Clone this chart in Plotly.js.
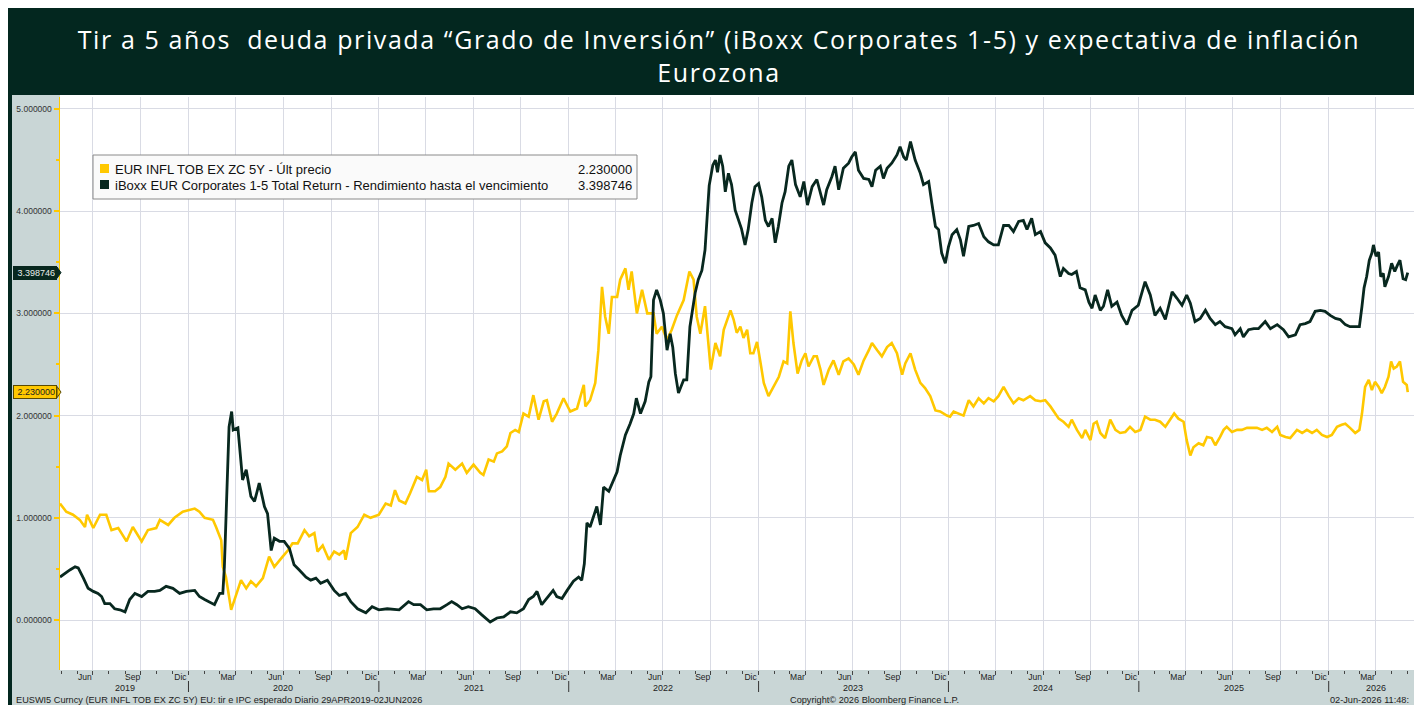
<!DOCTYPE html>
<html>
<head>
<meta charset="utf-8">
<script src="https://cdn.plot.ly/plotly-3.0.1.min.js"></script>
<style>
html,body{margin:0;padding:0;background:#ffffff;}
#chart{width:1414px;height:705px;}
</style>
</head>
<body>
<div id="chart"></div>
<script>
// ---------------- DATA ----------------
const inflName = 'EUR INFL TOB EX ZC 5Y - Últ precio';
const iboxxName = 'iBoxx EUR Corporates 1-5 Total Return - Rendimiento hasta el vencimiento';

const inflDates = ['2019-04-29','2019-05-11','2019-05-24','2019-06-06','2019-06-16','2019-06-20','2019-07-02','2019-07-15','2019-07-27','2019-08-06','2019-08-19','2019-09-04','2019-09-16','2019-10-03','2019-10-15','2019-10-31','2019-11-07','2019-11-23','2019-12-05','2019-12-21',
'2020-01-13','2020-01-22','2020-02-01','2020-02-17','2020-02-23','2020-03-04','2020-03-07','2020-03-13','2020-03-23','2020-04-02','2020-04-11','2020-04-21','2020-04-30','2020-05-10','2020-05-23','2020-06-04','2020-06-14','2020-06-30','2020-07-10','2020-07-19','2020-07-29','2020-08-11','2020-08-20','2020-08-30','2020-09-05','2020-09-15','2020-09-27','2020-10-07','2020-10-17','2020-10-26','2020-10-29','2020-11-08','2020-11-21','2020-12-04','2020-12-16',
'2021-01-01','2021-01-14','2021-01-24','2021-02-01','2021-02-09','2021-02-21','2021-03-02','2021-03-15','2021-03-25','2021-04-02','2021-04-07','2021-04-19','2021-04-29','2021-05-09','2021-05-15','2021-05-28','2021-06-10','2021-06-19','2021-07-02','2021-07-15','2021-07-21','2021-07-31','2021-08-10','2021-08-16','2021-08-26','2021-09-04','2021-09-11','2021-09-20','2021-09-27','2021-10-06','2021-10-16','2021-10-25','2021-11-04','2021-11-14','2021-11-20','2021-11-30','2021-12-09','2021-12-22',
'2022-01-04','2022-01-17','2022-01-30','2022-02-02','2022-02-11','2022-02-21','2022-02-27','2022-03-06','2022-03-12','2022-03-19','2022-03-25','2022-04-04','2022-04-10','2022-04-20','2022-04-26','2022-05-02','2022-05-12','2022-05-22','2022-06-01','2022-06-13','2022-06-19','2022-06-29','2022-07-09','2022-07-18','2022-07-28','2022-08-10','2022-08-21','2022-08-29','2022-09-04','2022-09-11','2022-09-20','2022-10-01','2022-10-10','2022-10-19','2022-10-26','2022-11-01','2022-11-08','2022-11-14','2022-11-20','2022-11-27','2022-12-03','2022-12-10','2022-12-16','2022-12-22','2022-12-29',
'2023-01-04','2023-01-11','2023-01-20','2023-01-30','2023-02-09','2023-02-18','2023-02-25','2023-03-03','2023-03-09','2023-03-17','2023-03-25','2023-04-01','2023-04-07','2023-04-17','2023-04-23','2023-04-30','2023-05-06','2023-05-16','2023-05-25','2023-06-04','2023-06-13','2023-06-23','2023-07-03','2023-07-12','2023-07-22','2023-08-01','2023-08-07','2023-08-17','2023-08-26','2023-09-05','2023-09-14','2023-09-24','2023-10-04','2023-10-10','2023-10-20','2023-10-29','2023-11-08','2023-11-17','2023-11-27','2023-12-07','2023-12-16','2023-12-29',
'2024-01-04','2024-01-11','2024-01-21','2024-01-30','2024-02-09','2024-02-18','2024-02-28','2024-03-09','2024-03-18','2024-03-28','2024-04-06','2024-04-16','2024-04-26','2024-05-05','2024-05-15','2024-05-24','2024-06-06','2024-06-16','2024-06-26','2024-07-05','2024-07-15','2024-07-24','2024-07-31','2024-08-09','2024-08-19','2024-08-25','2024-09-04','2024-09-14','2024-09-20','2024-09-30','2024-10-06','2024-10-12','2024-10-19','2024-10-28','2024-11-07','2024-11-17','2024-11-26','2024-12-06','2024-12-15','2024-12-25',
'2025-01-04','2025-01-13','2025-01-23','2025-02-01','2025-02-11','2025-02-21','2025-03-02','2025-03-10','2025-03-18','2025-03-28','2025-04-03','2025-04-10','2025-04-16','2025-04-26','2025-05-05','2025-05-12','2025-05-21','2025-05-28','2025-06-06','2025-06-13','2025-06-19','2025-06-29','2025-07-09','2025-07-18','2025-07-28','2025-08-06','2025-08-16','2025-08-26','2025-09-04','2025-09-14','2025-09-24','2025-09-30','2025-10-10','2025-10-19','2025-11-01','2025-11-11','2025-11-20','2025-11-30','2025-12-09','2025-12-19','2025-12-29',
'2026-01-07','2026-01-17','2026-01-26','2026-02-02','2026-02-11','2026-02-21','2026-03-01','2026-03-06','2026-03-12','2026-03-19','2026-03-25','2026-03-31','2026-04-07','2026-04-13','2026-04-19','2026-04-26','2026-05-01','2026-05-06','2026-05-12','2026-05-18','2026-05-24','2026-05-31','2026-06-02'];
const inflValues = [1.14,1.06,1.03,0.98,0.91,1.03,0.90,1.03,1.03,0.88,0.90,0.77,0.91,0.77,0.88,0.90,0.98,0.93,1.00,1.06,
1.09,1.06,1.00,0.98,0.91,0.78,0.52,0.42,0.10,0.26,0.39,0.31,0.38,0.33,0.41,0.62,0.52,0.62,0.68,0.75,0.75,0.88,0.82,0.85,0.67,0.73,0.59,0.67,0.64,0.68,0.59,0.85,0.91,1.03,1.00,
1.03,1.14,1.12,1.27,1.17,1.14,1.24,1.40,1.37,1.47,1.26,1.26,1.30,1.40,1.53,1.47,1.53,1.44,1.52,1.44,1.42,1.57,1.55,1.63,1.65,1.70,1.83,1.86,1.84,2.02,1.99,2.20,1.96,2.14,2.15,1.94,2.02,2.17,
2.04,2.07,2.30,2.09,2.15,2.32,2.64,3.26,2.97,2.80,3.16,3.16,3.33,3.44,3.23,3.41,3.00,3.23,3.00,3.00,2.80,2.87,2.74,2.84,2.98,3.13,3.41,3.33,2.97,2.80,3.07,2.45,2.71,2.58,2.84,2.92,3.03,2.94,2.81,2.87,2.76,2.84,2.61,2.61,2.72,
2.54,2.32,2.19,2.28,2.38,2.53,2.51,3.02,2.71,2.41,2.54,2.61,2.48,2.58,2.58,2.45,2.30,2.45,2.54,2.40,2.53,2.56,2.50,2.40,2.54,2.64,2.71,2.64,2.58,2.67,2.71,2.61,2.40,2.51,2.61,2.45,2.32,2.27,2.19,2.05,2.04,2.00,
1.99,2.04,2.02,2.00,2.15,2.09,2.17,2.12,2.17,2.14,2.19,2.28,2.19,2.12,2.17,2.15,2.19,2.15,2.14,2.15,2.09,2.02,1.97,1.94,1.89,1.96,1.86,1.78,1.86,1.76,1.92,1.94,1.83,1.78,1.96,1.86,1.83,1.84,1.89,1.84,
1.86,1.99,1.96,1.96,1.94,1.89,1.96,2.02,1.97,1.94,1.76,1.61,1.69,1.73,1.71,1.79,1.78,1.71,1.79,1.86,1.89,1.84,1.86,1.86,1.88,1.88,1.88,1.86,1.88,1.84,1.89,1.81,1.79,1.78,1.86,1.83,1.86,1.83,1.86,1.81,1.79,
1.81,1.89,1.91,1.92,1.88,1.83,1.86,2.02,2.28,2.35,2.25,2.33,2.28,2.22,2.28,2.38,2.53,2.46,2.48,2.53,2.33,2.30,2.23];

const iboxxDates = ['2019-04-29','2019-05-09','2019-05-18','2019-05-28','2019-06-03','2019-06-13','2019-06-22','2019-07-02','2019-07-11','2019-07-18','2019-07-24','2019-08-03','2019-08-12','2019-08-22','2019-09-01','2019-09-10','2019-09-20','2019-10-03','2019-10-15','2019-10-28','2019-11-07','2019-11-19','2019-12-02','2019-12-15','2019-12-28',
'2020-01-13','2020-01-22','2020-02-01','2020-02-10','2020-02-20','2020-03-01','2020-03-07','2020-03-10','2020-03-15','2020-03-19','2020-03-24','2020-03-27','2020-04-05','2020-04-11','2020-04-14','2020-04-21','2020-04-30','2020-05-07','2020-05-16','2020-05-26','2020-06-01','2020-06-08','2020-06-14','2020-06-24','2020-07-03','2020-07-13','2020-07-22','2020-08-01','2020-08-14','2020-08-23','2020-09-02','2020-09-11','2020-09-24','2020-10-07','2020-10-17','2020-10-29','2020-11-08','2020-11-21','2020-12-07','2020-12-19',
'2021-01-01','2021-01-17','2021-02-09','2021-02-27','2021-03-09','2021-03-22','2021-04-03','2021-04-16','2021-04-29','2021-05-12','2021-05-21','2021-05-31','2021-06-10','2021-06-22','2021-07-05','2021-07-18','2021-08-03','2021-08-16','2021-08-29','2021-09-11','2021-09-23','2021-10-06','2021-10-16','2021-10-25','2021-11-01','2021-11-10','2021-11-20','2021-12-02','2021-12-09','2021-12-19','2021-12-29',
'2022-01-10','2022-01-20','2022-01-26','2022-01-31','2022-02-05','2022-02-11','2022-02-18','2022-02-24','2022-03-03','2022-03-09','2022-03-19','2022-03-28','2022-04-04','2022-04-10','2022-04-20','2022-04-29','2022-05-06','2022-05-11','2022-05-19','2022-05-28','2022-06-04','2022-06-08','2022-06-13','2022-06-19','2022-06-26','2022-07-02','2022-07-09','2022-07-15','2022-07-20','2022-07-25','2022-07-31','2022-08-10','2022-08-16','2022-08-22','2022-09-01','2022-09-07','2022-09-14','2022-09-20','2022-09-24','2022-09-28','2022-10-05','2022-10-10','2022-10-14','2022-10-19','2022-10-24','2022-10-29','2022-11-04','2022-11-10','2022-11-17','2022-11-23','2022-11-29','2022-12-06','2022-12-12','2022-12-19','2022-12-25',
'2023-01-01','2023-01-07','2023-01-14','2023-01-20','2023-01-27','2023-02-02','2023-02-08','2023-02-15','2023-02-21','2023-02-28','2023-03-06','2023-03-13','2023-03-22','2023-03-29','2023-04-05','2023-04-14','2023-04-23','2023-04-30','2023-05-06','2023-05-12','2023-05-22','2023-05-28','2023-06-04','2023-06-13','2023-06-23','2023-06-29','2023-07-06','2023-07-12','2023-07-22','2023-08-01','2023-08-07','2023-08-14','2023-08-23','2023-08-29','2023-09-05','2023-09-14','2023-09-24','2023-09-30','2023-10-07','2023-10-12','2023-10-20','2023-10-29','2023-11-08','2023-11-14','2023-11-24','2023-11-30','2023-12-07','2023-12-13','2023-12-19','2023-12-26',
'2024-01-01','2024-01-08','2024-01-17','2024-01-24','2024-01-30','2024-02-09','2024-02-18','2024-02-28','2024-03-09','2024-03-18','2024-03-28','2024-04-06','2024-04-16','2024-04-26','2024-05-05','2024-05-15','2024-05-24','2024-05-31','2024-06-09','2024-06-16','2024-06-26','2024-07-05','2024-07-15','2024-07-24','2024-08-03','2024-08-09','2024-08-19','2024-08-25','2024-09-03','2024-09-10','2024-09-20','2024-09-27','2024-10-03','2024-10-09','2024-10-19','2024-10-25','2024-11-02','2024-11-10','2024-11-20','2024-11-29','2024-12-09','2024-12-19','2024-12-31',
'2025-01-13','2025-01-23','2025-02-01','2025-02-11','2025-02-21','2025-03-06','2025-03-15','2025-03-25','2025-04-03','2025-04-10','2025-04-19','2025-04-29','2025-05-09','2025-05-18','2025-05-28','2025-06-06','2025-06-16','2025-06-29','2025-07-05','2025-07-15','2025-07-21','2025-07-31','2025-08-10','2025-08-19','2025-09-01','2025-09-11','2025-09-24','2025-10-06','2025-10-16','2025-10-29','2025-11-07','2025-11-17','2025-11-26','2025-12-06','2025-12-16','2025-12-25',
'2026-01-04','2026-01-14','2026-01-23','2026-02-02','2026-02-11','2026-02-21','2026-03-01','2026-03-06','2026-03-10','2026-03-15','2026-03-20','2026-03-25','2026-03-28','2026-04-02','2026-04-07','2026-04-11','2026-04-16','2026-04-19','2026-04-26','2026-05-02','2026-05-08','2026-05-13','2026-05-18','2026-05-24','2026-05-29','2026-06-02'];
const iboxxValues = [0.42,0.46,0.49,0.52,0.51,0.41,0.31,0.28,0.26,0.23,0.16,0.16,0.11,0.10,0.08,0.20,0.26,0.23,0.28,0.28,0.29,0.33,0.31,0.26,0.28,
0.29,0.23,0.20,0.18,0.15,0.26,0.26,0.52,1.37,1.89,2.04,1.86,1.88,1.53,1.37,1.47,1.21,1.16,1.34,1.11,1.04,0.68,0.80,0.77,0.77,0.70,0.54,0.49,0.42,0.39,0.41,0.36,0.39,0.29,0.24,0.26,0.18,0.11,0.07,0.13,
0.10,0.11,0.10,0.18,0.15,0.15,0.10,0.11,0.11,0.15,0.18,0.15,0.11,0.13,0.11,0.05,-0.02,0.02,0.03,0.08,0.07,0.11,0.20,0.23,0.28,0.15,0.21,0.29,0.23,0.21,0.29,
0.38,0.42,0.39,0.55,0.95,0.91,1.01,1.11,0.93,1.30,1.26,1.37,1.45,1.61,1.81,1.92,2.02,2.17,2.02,2.14,2.33,2.38,3.13,3.23,3.13,3.00,2.64,2.80,2.67,2.41,2.22,2.35,2.35,2.87,3.20,3.33,3.42,3.62,4.00,4.25,4.45,4.50,4.38,4.55,4.44,4.19,4.37,4.26,4.01,3.93,3.83,3.67,3.82,4.08,4.24,
4.27,4.14,3.91,3.85,3.93,3.69,3.85,4.08,4.19,4.44,4.50,4.26,4.14,4.29,4.06,4.24,4.31,4.16,4.06,4.21,4.34,4.44,4.21,4.42,4.47,4.53,4.58,4.40,4.32,4.31,4.24,4.40,4.44,4.32,4.42,4.47,4.55,4.63,4.53,4.50,4.68,4.50,4.37,4.26,4.29,4.08,3.85,3.82,3.59,3.49,
3.65,3.77,3.82,3.72,3.56,3.85,3.86,3.88,3.75,3.70,3.67,3.67,3.86,3.86,3.80,3.90,3.91,3.82,3.93,3.77,3.80,3.69,3.64,3.57,3.36,3.44,3.39,3.38,3.41,3.25,3.23,3.11,3.05,3.18,3.03,3.07,3.23,3.07,3.11,2.98,2.89,3.03,3.08,
3.31,3.18,2.98,3.05,2.94,3.21,3.15,3.08,3.18,3.10,2.92,2.95,3.03,2.95,2.89,2.92,2.87,2.85,2.79,2.85,2.77,2.84,2.85,2.85,2.92,2.85,2.89,2.84,2.77,2.79,2.89,2.90,2.92,3.02,3.03,3.02,
2.98,2.95,2.94,2.89,2.87,2.87,2.87,3.07,3.25,3.36,3.52,3.59,3.67,3.56,3.60,3.36,3.39,3.26,3.36,3.49,3.41,3.47,3.52,3.34,3.33,3.398746];

const quarterTicks = ['2019-07-01','2019-10-01','2020-01-01','2020-04-01','2020-07-01','2020-10-01','2021-01-01','2021-04-01','2021-07-01','2021-10-01','2022-01-01','2022-04-01','2022-07-01','2022-10-01','2023-01-01','2023-04-01','2023-07-01','2023-10-01','2024-01-01','2024-04-01','2024-07-01','2024-10-01','2025-01-01','2025-04-01','2025-07-01','2025-10-01','2026-01-01','2026-04-01'];
const quarterLabels = ['Jun','Sep','Dic','Mar','Jun','Sep','Dic','Mar','Jun','Sep','Dic','Mar','Jun','Sep','Dic','Mar','Jun','Sep','Dic','Mar','Jun','Sep','Dic','Mar','Jun','Sep','Dic','Mar'];
const yearLabels = ['2019','2020','2021','2022','2023','2024','2025','2026'];
const yearLabelDates = ['2019-08-31','2020-07-01','2021-07-02','2022-07-02','2023-07-02','2024-07-01','2025-07-02','2026-04-01'];
const yearSeparators = ['2020-01-01','2021-01-01','2022-01-01','2023-01-01','2024-01-01','2025-01-01','2026-01-01'];
const yTicks = [0,1,2,3,4,5];

const titleText = 'Tir a 5 años  deuda privada “Grado de Inversión” (iBoxx Corporates 1-5) y expectativa de inflación<br>Eurozona';
const footLeft = 'EUSWI5 Curncy (EUR INFL TOB EX ZC 5Y) EU: tir e IPC esperado Diario 29APR2019-02JUN2026';
const footMid = 'Copyright© 2026 Bloomberg Finance L.P.';
const footRight = '02-Jun-2026 11:48:';

// ---------------- STYLE ----------------
const W = 1414, H = 705, ML = 60, MR = 0, MT = 97, MB = 35;
const PW = W - ML - MR, PH = H - MT - MB;
const px = v => (v - ML) / PW;          // pixel x -> paper
const py = v => (H - MB - v) / PH;      // pixel y -> paper
const DARK = '#03271F';
const GUT = '#C9D6D6';
const YEL = '#FFC800';
const LINE_DARK = '#08281F';
const GRID = '#D9DBE4';
const FONT = 'Liberation Sans, Arial, sans-serif';

const lastInfl = inflValues[inflValues.length - 1];
const lastIboxx = iboxxValues[iboxxValues.length - 1];

const traces = [
  {type:'scatter', mode:'lines', x:inflDates, y:inflValues, name:inflName,
   line:{color:YEL, width:2.6}, hoverinfo:'skip'},
  {type:'scatter', mode:'lines', x:iboxxDates, y:iboxxValues, name:iboxxName,
   line:{color:LINE_DARK, width:2.8}, hoverinfo:'skip'}
];

const shapes = [
  {type:'rect', xref:'paper', yref:'paper', x0:px(8), x1:px(1414), y0:py(95), y1:py(8), fillcolor:DARK, line:{width:0}, layer:'below'},
  {type:'rect', xref:'paper', yref:'paper', x0:px(12), x1:px(60), y0:py(705), y1:py(95), fillcolor:GUT, line:{width:0}, layer:'below'},
  {type:'rect', xref:'paper', yref:'paper', x0:px(12), x1:px(1414), y0:py(705), y1:py(670), fillcolor:GUT, line:{width:0}, layer:'below'},
  {type:'rect', xref:'paper', yref:'paper', x0:px(8), x1:px(12), y0:py(705), y1:py(95), fillcolor:DARK, line:{width:0}, layer:'below'},
  {type:'rect', xref:'paper', yref:'paper', x0:px(93), x1:px(637), y0:py(199), y1:py(155), fillcolor:'#FAFAFA', line:{color:'#8A8A8A', width:1}, layer:'above'},
  {type:'rect', xref:'paper', yref:'paper', x0:px(100), x1:px(109), y0:py(173), y1:py(164), fillcolor:YEL, line:{width:0}, layer:'above'},
  {type:'rect', xref:'paper', yref:'paper', x0:px(100), x1:px(109), y0:py(189), y1:py(180), fillcolor:LINE_DARK, line:{width:0}, layer:'above'}
];
yearSeparators.forEach(d => shapes.push({type:'line', xref:'x', yref:'paper', x0:d, x1:d, y0:py(681), y1:py(692), line:{color:'#333', width:1}}));
[[lastIboxx, LINE_DARK],[lastInfl, YEL]].forEach(([v,c]) => shapes.push({
  type:'path', xref:'paper', yref:'y',
  path:`M ${px(57)} ${v+0.055} L ${px(61)} ${v} L ${px(57)} ${v-0.055} Z`,
  fillcolor:c, line:{color: c===YEL ? '#5a4a00' : c, width:1}, layer:'above'}));

const LEG = 13;
const annotations = [
  {xref:'paper', yref:'paper', x:px(113), y:py(169), xanchor:'left', yanchor:'middle', text:inflName, showarrow:false, font:{family:FONT, size:LEG, color:'#111'}},
  {xref:'paper', yref:'paper', x:px(113), y:py(185), xanchor:'left', yanchor:'middle', text:iboxxName, showarrow:false, font:{family:FONT, size:LEG, color:'#111'}},
  {xref:'paper', yref:'paper', x:px(634), y:py(169), xanchor:'right', yanchor:'middle', text:lastInfl.toFixed(6), showarrow:false, font:{family:FONT, size:LEG, color:'#111'}},
  {xref:'paper', yref:'paper', x:px(634), y:py(185), xanchor:'right', yanchor:'middle', text:lastIboxx.toFixed(6), showarrow:false, font:{family:FONT, size:LEG, color:'#111'}},
  {xref:'paper', yref:'y', x:px(57), y:lastIboxx, xanchor:'right', yanchor:'middle', text:lastIboxx.toFixed(6), showarrow:false,
   bgcolor:LINE_DARK, bordercolor:LINE_DARK, borderwidth:1, borderpad:1, width:40, align:'right', font:{family:FONT, size:9, color:'#E8EEEC'}},
  {xref:'paper', yref:'y', x:px(57), y:lastInfl, xanchor:'right', yanchor:'middle', text:lastInfl.toFixed(6), showarrow:false,
   bgcolor:YEL, bordercolor:'#5a4a00', borderwidth:1, borderpad:1, width:40, align:'right', font:{family:FONT, size:9, color:'#222'}},
  {xref:'paper', yref:'paper', x:px(14), y:py(700), xanchor:'left', yanchor:'middle', text:footLeft, showarrow:false, font:{family:FONT, size:9.2, color:'#222'}},
  {xref:'paper', yref:'paper', x:px(788), y:py(700), xanchor:'left', yanchor:'middle', text:footMid, showarrow:false, font:{family:FONT, size:9.2, color:'#222'}},
  {xref:'paper', yref:'paper', x:px(1328), y:py(700), xanchor:'left', yanchor:'middle', text:footRight, showarrow:false, font:{family:FONT, size:9.2, color:'#222'}}
];
yearLabels.forEach((t,i) => annotations.push({xref:'x', yref:'paper', x:yearLabelDates[i], y:py(688), xanchor:'center', yanchor:'middle', text:t, showarrow:false, font:{family:FONT, size:9, color:'#222'}}));

const layout = {
  width: W, height: H,
  margin: {l:ML, r:MR, t:MT, b:MB, pad:0},
  paper_bgcolor:'#ffffff', plot_bgcolor:'#ffffff',
  showlegend:false,
  font:{family:FONT, color:'#222'},
  title:{text:titleText, font:{family:'Open Sans, Noto Sans, sans-serif', size:25, color:'#ffffff'},
         x:719/W, xanchor:'center', xref:'container', y:1-49/H, yanchor:'middle', yref:'container'},
  xaxis:{type:'date', range:['2019-04-29','2026-06-14'], tickmode:'array', tickvals:quarterTicks, ticktext:quarterLabels,
         ticklabelshift:-8, ticklabelstandoff:-5, ticks:'outside', ticklen:4, tickcolor:'#444', tickwidth:1,
         tickfont:{family:FONT, size:8.5, color:'#222'},
         showgrid:true, gridcolor:GRID, gridwidth:1, zeroline:false, showline:false,
         minor:{tickmode:'linear', tick0:'2019-05-01', dtick:'M1', ticks:'outside', ticklen:3, tickcolor:'#444', showgrid:false},
         fixedrange:true},
  yaxis:{range:[-0.489, 5.117], tickmode:'array', tickvals:yTicks, ticktext:yTicks.map(v => v.toFixed(6)),
         ticks:'outside', ticklen:5, tickwidth:2, tickcolor:YEL,
         tickfont:{family:FONT, size:8.5, color:'#333'},
         showline:true, linecolor:YEL, linewidth:1.5,
         showgrid:true, gridcolor:GRID, gridwidth:1, zeroline:false,
         minor:{tickmode:'linear', tick0:0.5, dtick:1, ticks:'outside', ticklen:3, tickcolor:YEL, showgrid:false},
         fixedrange:true},
  shapes: shapes,
  annotations: annotations
};

Plotly.newPlot('chart', traces, layout, {staticPlot:true, displayModeBar:false}).then(() => {
  // the reference title is letter-spaced
  document.querySelectorAll('.gtitle').forEach(el => { el.style.letterSpacing = '1.6px'; });
});
</script>
</body>
</html>
